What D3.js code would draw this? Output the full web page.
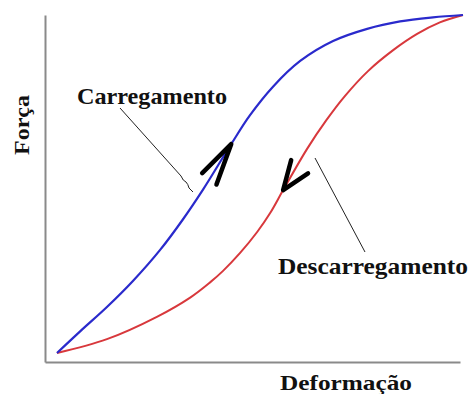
<!DOCTYPE html>
<html>
<head>
<meta charset="utf-8">
<script src="https://cdn.jsdelivr.net/npm/d3@7/dist/d3.min.js"></script>
<style>
  html, body { margin: 0; padding: 0; background: #fff; }
  svg { display: block; }
  text { font-family: "Liberation Serif", "DejaVu Serif", serif; font-weight: bold; fill: #111; }
</style>
</head>
<body>
<svg id="chart" width="472" height="394"></svg>
<script>
// Hysteresis loop: force vs. deformation, loading and unloading branches (relative units, 0–100)
const loadingX   = [0, 5.7, 12.3, 18.7, 25.4, 31.0, 36.0, 42.9, 47.5, 53.2, 59.9, 68.0, 76.4, 84.5, 92.6, 100];
const loadingY   = [0, 6.4, 13.6, 21.3, 30.5, 39.5, 48.4, 61.8, 70.3, 78.8, 86.4, 92.3, 95.9, 98.1, 99.3, 100];
const unloadingX = [0, 12.3, 24.6, 32.8, 37.7, 40.9, 45.1, 49.3, 52.5, 55.7, 61.6, 66.3, 70.9, 76.6, 82.8, 88.7, 94.3, 100];
const unloadingY = [0, 4.1, 10.7, 16.4, 20.9, 24.3, 29.6, 35.8, 41.4, 48.2, 60.4, 68.8, 76.0, 83.4, 89.6, 94.4, 97.8, 100];

const labels = { x: "Deformação", y: "Força", loading: "Carregamento", unloading: "Descarregamento" };

const svg = d3.select("#chart");

const x = d3.scaleLinear().domain([0, 100]).range([57, 463]);
const y = d3.scaleLinear().domain([0, 100]).range([353, 15]);

// Axis frame (no ticks), slightly outside the data origin
const axisX0 = 45, axisY0 = 362;
const xAxis = d3.axisBottom(d3.scaleLinear().range([axisX0, 460])).ticks(0).tickSizeOuter(0);
const yAxis = d3.axisLeft(d3.scaleLinear().range([axisY0, 15])).ticks(0).tickSizeOuter(0);
svg.append("g").attr("transform", `translate(0,${axisY0})`).call(xAxis)
  .select(".domain").attr("stroke", "#8a8a8a").attr("stroke-width", 2);
svg.append("g").attr("transform", `translate(${axisX0},0)`).call(yAxis)
  .select(".domain").attr("stroke", "#8a8a8a").attr("stroke-width", 2);

const line = d3.line().x(d => x(d[0])).y(d => y(d[1])).curve(d3.curveCatmullRom.alpha(0.5));
const loading = d3.zip(loadingX, loadingY);
const unloading = d3.zip(unloadingX, unloadingY);

svg.append("path").datum(unloading).attr("d", line)
  .attr("fill", "none").attr("stroke", "#d8383c").attr("stroke-width", 2);
svg.append("path").datum(loading).attr("d", line)
  .attr("fill", "none").attr("stroke", "#2a2acc").attr("stroke-width", 2.2);

// Direction chevrons placed on a curve point, arms given as screen angles (deg) and lengths
function chevron(pt, arms) {
  const tx = x(pt[0]), ty = y(pt[1]);
  const p = d3.path();
  arms.forEach(a => {
    const r = a.angle * Math.PI / 180;
    p.moveTo(tx + a.len * Math.cos(r), ty + a.len * Math.sin(r));
    p.lineTo(tx, ty);
  });
  svg.append("path").attr("d", p.toString())
    .attr("fill", "none").attr("stroke", "#000").attr("stroke-width", 4.5)
    .attr("stroke-linecap", "round").attr("stroke-linejoin", "miter");
}
chevron(loading[7], [{ angle: 135, len: 41 }, { angle: 110, len: 43 }]);
chevron(unloading[9], [{ angle: -75, len: 31 }, { angle: -34, len: 30 }]);

// Leader lines
svg.append("path")
  .attr("d", "M120,108 L181,176 Q183,181 186,182 Q188,184 189,188 L193,192")
  .attr("fill", "none").attr("stroke", "#222").attr("stroke-width", 1);
svg.append("line").attr("x1", 315).attr("y1", 158).attr("x2", 365).attr("y2", 252)
  .attr("stroke", "#222").attr("stroke-width", 1);

// Labels
svg.append("text").attr("x", 77).attr("y", 104).attr("font-size", 24)
  .attr("textLength", 150).attr("lengthAdjust", "spacingAndGlyphs").text(labels.loading);
svg.append("text").attr("x", 278).attr("y", 274).attr("font-size", 24)
  .attr("textLength", 190).attr("lengthAdjust", "spacingAndGlyphs").text(labels.unloading);
svg.append("text").attr("x", 280).attr("y", 390).attr("font-size", 21)
  .attr("textLength", 132).attr("lengthAdjust", "spacingAndGlyphs").text(labels.x);
svg.append("text").attr("transform", "translate(29,155) rotate(-90)").attr("font-size", 22)
  .attr("textLength", 60).attr("lengthAdjust", "spacingAndGlyphs").text(labels.y);
</script>
</body>
</html>
